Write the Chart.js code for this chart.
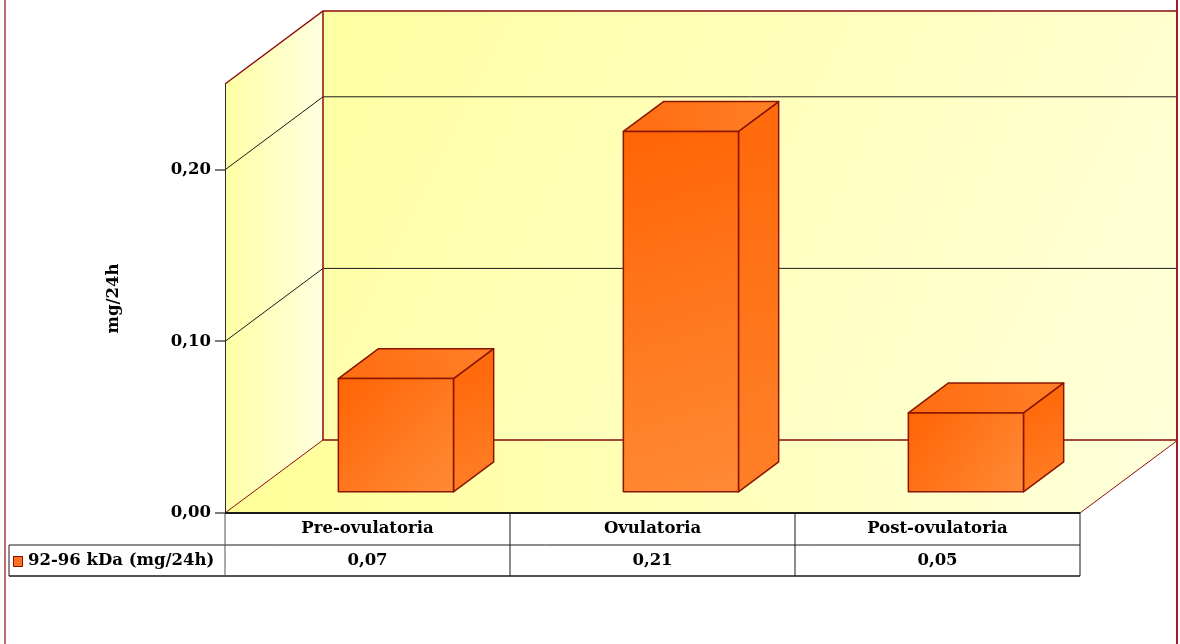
<!DOCTYPE html>
<html>
<head>
<meta charset="utf-8">
<script src="https://cdn.jsdelivr.net/npm/chart.js@4.4.0/dist/chart.umd.min.js"></script>
<style>
  html, body { margin: 0; padding: 0; background: #fff; }
  #wrap { width: 1180px; height: 644px; }
</style>
</head>
<body>
<div id="wrap"><canvas id="myChart" width="1180" height="644"></canvas></div>
<script>
// data
var categories = ['Pre-ovulatoria', 'Ovulatoria', 'Post-ovulatoria'];
var seriesName = '92-96 kDa (mg/24h)';
var values = [0.066, 0.21, 0.046];
var tableLabels = ['0,07', '0,21', '0,05'];
var yTicks = [0, 0.1, 0.2];
var yTitle = 'mg/24h';

var FONT = "'DejaVu Serif', 'Liberation Serif', serif";
var DEPTH = { dx: 98, dy: -73 };   // oblique depth of the floor
var BAR_FRONT = 0.29, BAR_BACK = 0.70;
var ROW_H = [32, 31];

function line(ctx, pts, color, w) {
    ctx.beginPath();
    ctx.moveTo(pts[0][0], pts[0][1]);
    for (var i = 1; i < pts.length; i++) ctx.lineTo(pts[i][0], pts[i][1]);
    ctx.strokeStyle = color;
    ctx.lineWidth = w;
    ctx.stroke();
}

function poly(ctx, pts, fill, stroke, w) {
    ctx.beginPath();
    ctx.moveTo(pts[0][0], pts[0][1]);
    for (var i = 1; i < pts.length; i++) ctx.lineTo(pts[i][0], pts[i][1]);
    ctx.closePath();
    ctx.fillStyle = fill;
    ctx.fill();
    if (stroke) {
        ctx.strokeStyle = stroke;
        ctx.lineWidth = w;
        ctx.lineJoin = 'round';
        ctx.stroke();
    }
}

function grad(ctx, x0, y0, x1, y1, c0, c1) {
    var g = ctx.createLinearGradient(x0, y0, x1, y1);
    g.addColorStop(0, c0);
    g.addColorStop(1, c1);
    return g;
}

var walls3d = {
    id: 'walls3d',
    beforeDraw: function(chart) {
        var ctx = chart.ctx, a = chart.chartArea, y = chart.scales.y;
        var dx = DEPTH.dx, dy = DEPTH.dy;
        var L = a.left, R = a.right, T = a.top, B = a.bottom;
        ctx.save();
        // back wall
        poly(ctx, [[L + dx, T + dy], [R + dx, T + dy], [R + dx, B + dy], [L + dx, B + dy]],
            grad(ctx, L + dx, T + dy, R + dx, B + dy, '#ffffa2', '#ffffda'));
        // left wall
        poly(ctx, [[L, T], [L + dx, T + dy], [L + dx, B + dy], [L, B]],
            grad(ctx, L, 0, L + dx, 0, '#ffffa6', '#ffffe0'));
        // floor
        poly(ctx, [[L, B], [R, B], [R + dx, B + dy], [L + dx, B + dy]],
            grad(ctx, L, B, R + dx, B + dy, '#ffff98', '#ffffdc'));
        // grid lines
        yTicks.forEach(function(v) {
            if (v === 0) return;
            var py = y.getPixelForValue(v);
            line(ctx, [[L, py], [L + dx, py + dy], [R + dx, py + dy]], '#1a1a1a', 1);
        });
        // edges
        var red = '#8b0d0d';
        line(ctx, [[L, T], [L + dx, T + dy], [R + dx, T + dy]], red, 1.5);
        line(ctx, [[L + dx, T + dy], [L + dx, B + dy], [R + dx, B + dy]], red, 1.5);
        line(ctx, [[L, B], [L + dx, B + dy]], red, 1);
        line(ctx, [[R, B], [R + dx, B + dy]], red, 1);
        ctx.restore();
    },
    afterDatasetsDraw: function(chart) {
        var ctx = chart.ctx, y = chart.scales.y;
        var meta = chart.getDatasetMeta(0);
        ctx.save();
        meta.data.forEach(function(bar, i) {
            var w = bar.width;
            var x0 = bar.x - w / 2 + BAR_FRONT * DEPTH.dx;
            var x1 = x0 + w;
            var yb = y.getPixelForValue(0) + BAR_FRONT * DEPTH.dy;
            var yt = y.getPixelForValue(values[i]) + BAR_FRONT * DEPTH.dy;
            var ox = (BAR_BACK - BAR_FRONT) * DEPTH.dx;
            var oy = (BAR_BACK - BAR_FRONT) * DEPTH.dy;
            var edge = '#8a1500';
            // side
            poly(ctx, [[x1, yt], [x1 + ox, yt + oy], [x1 + ox, yb + oy], [x1, yb]],
                grad(ctx, x1, yt, x1 + ox, yb, '#ff6a0c', '#ff8028'), edge, 1.5);
            // top
            poly(ctx, [[x0, yt], [x0 + ox, yt + oy], [x1 + ox, yt + oy], [x1, yt]],
                grad(ctx, x0, yt, x1 + ox, yt + oy, '#ff6c10', '#ff7f26'), edge, 1.5);
            // front
            poly(ctx, [[x0, yt], [x1, yt], [x1, yb], [x0, yb]],
                grad(ctx, x0, yt, x1, yb, '#ff6404', '#ff8a36'), edge, 1.5);
        });
        ctx.restore();
    },
    afterDraw: function(chart) {
        var ctx = chart.ctx, a = chart.chartArea;
        var L = a.left, R = a.right, B = a.bottom;
        var cw = (R - L) / categories.length;
        var r1 = B + ROW_H[0], r2 = r1 + ROW_H[1];
        var tx = 9;
        ctx.save();
        // table grid
        line(ctx, [[tx, r1], [R, r1]], '#1a1a1a', 1);
        line(ctx, [[tx, r2], [R, r2]], '#1a1a1a', 1.5);
        line(ctx, [[tx, r1], [tx, r2]], '#1a1a1a', 1);
        line(ctx, [[L, B], [L, r2]], '#555', 1);
        for (var i = 1; i <= categories.length; i++) {
            line(ctx, [[L + i * cw, B], [L + i * cw, r2]], '#1a1a1a', 1);
        }
        line(ctx, [[L, B], [R, B]], '#1a1a1a', 2);
        // table text
        ctx.fillStyle = '#000';
        ctx.font = 'bold 16.5px ' + FONT;
        ctx.textAlign = 'center';
        ctx.textBaseline = 'middle';
        categories.forEach(function(c, i) {
            ctx.fillText(c, L + (i + 0.5) * cw, B + ROW_H[0] / 2);
            ctx.fillText(tableLabels[i], L + (i + 0.5) * cw, r1 + ROW_H[1] / 2);
        });
        // legend key
        ctx.fillStyle = '#ff7020';
        ctx.fillRect(13.5, 556.5, 9, 10);
        ctx.strokeStyle = '#8a1500';
        ctx.lineWidth = 1;
        ctx.strokeRect(13.5, 556.5, 9, 10);
        ctx.fillStyle = '#000';
        ctx.textAlign = 'left';
        ctx.fillText(seriesName, 28, r1 + ROW_H[1] / 2);
        // outer frame
        line(ctx, [[5, 0], [5, 644]], '#a83a3a', 1.5);
        line(ctx, [[1177, 0], [1177, 644]], '#a02020', 2);
        ctx.restore();
    }
};

var ctx = document.getElementById('myChart').getContext('2d');
var chart = new Chart(ctx, {
    type: 'bar',
    data: {
        labels: categories,
        datasets: [{
            label: seriesName,
            data: values,
            backgroundColor: 'rgba(0,0,0,0)',
            borderWidth: 0,
            categoryPercentage: 1,
            barPercentage: 0.404
        }]
    },
    options: {
        responsive: false,
        animation: false,
        layout: { padding: { left: 98, right: 100, top: 84, bottom: 131 } },
        plugins: {
            legend: { display: false },
            tooltip: { enabled: false },
            title: { display: false }
        },
        scales: {
            x: { display: false },
            y: {
                min: 0,
                max: 0.25,
                afterBuildTicks: function(scale) {
                    scale.ticks = yTicks.map(function(v) { return { value: v }; });
                },
                afterFit: function(scale) { scale.width = 127; },
                grid: {
                    drawOnChartArea: false,
                    drawTicks: true,
                    tickLength: 10,
                    tickColor: '#7a7a7a',
                    lineWidth: 2
                },
                border: { display: true, color: '#2a2a2a', width: 1 },
                ticks: {
                    padding: 4,
                    color: '#000',
                    font: { family: FONT, size: 16.5, weight: 'bold' },
                    callback: function(v) { return v.toFixed(2).replace('.', ','); }
                },
                title: {
                    display: true,
                    text: yTitle,
                    color: '#000',
                    padding: { top: 6, bottom: 0 },
                    font: { family: FONT, size: 16.5, weight: 'bold' }
                }
            }
        }
    },
    plugins: [walls3d]
});
</script>
</body>
</html>
